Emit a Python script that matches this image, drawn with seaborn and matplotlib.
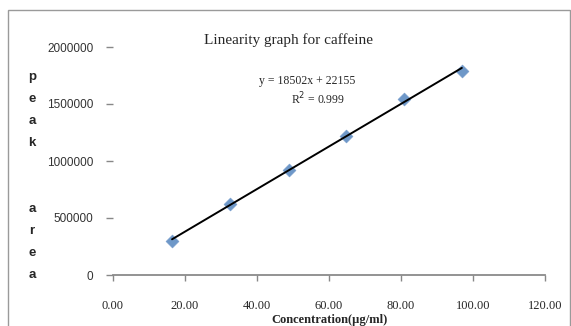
import numpy as np
import matplotlib
matplotlib.use("Agg")
import matplotlib.pyplot as plt
import seaborn as sns
from matplotlib.patches import Rectangle

# data
concentration = [16.4, 32.5, 48.8, 64.8, 80.8, 96.9]
peak_area = [298000, 623000, 921000, 1219000, 1544000, 1790000]
x_ticks = [0, 20, 40, 60, 80, 100, 120]
y_ticks = [0, 500000, 1000000, 1500000, 2000000]

sns.set_style("white")
plt.rcParams['font.family'] = ['Liberation Serif', 'DejaVu Sans']

fig = plt.figure(figsize=(5.71, 3.26), dpi=100)
ax = fig.add_axes([113 / 571, 1 - 275 / 326, 432 / 571, 228 / 326])

sns.regplot(x=concentration, y=peak_area, ax=ax, ci=None, truncate=True,
            marker='D',
            scatter_kws={'s': 42, 'color': '#4a7ebb', 'edgecolors': '#6f97c9',
                         'linewidths': 0.6, 'zorder': 2},
            line_kws={'color': 'black', 'lw': 1.4, 'zorder': 3})

ax.set_xlim(0, 120)
ax.set_ylim(0, 2000000)
ax.set_xticks(x_ticks)
ax.set_xticklabels([f'{v:.2f}' for v in x_ticks], fontsize=9)
ax.set_yticks(y_ticks)
ax.set_yticklabels([str(v) for v in y_ticks], fontsize=8.5,
                   family='Liberation Sans', color='#333333')
ax.tick_params(axis='x', direction='out', length=4, width=1, color='#888888',
               pad=14, bottom=True)
ax.tick_params(axis='y', direction='out', length=5, width=1, color='#888888',
               pad=9, left=True)
for s in ['left', 'right', 'top']:
    ax.spines[s].set_visible(False)
ax.spines['bottom'].set_color('#8a8a8a')
ax.spines['bottom'].set_linewidth(1.3)
ax.set_xlabel('')
ax.set_ylabel('')

# titles and annotations
fig.text(289 / 571, 1 - 40 / 326, 'Linearity graph for caffeine', ha='center',
         va='center', fontsize=11)
fig.text(307 / 571, 1 - 81 / 326, 'y = 18502x + 22155', ha='center',
         va='center', fontsize=8.5)
fig.text(318 / 571, 1 - 99 / 326, 'R$^2$ = 0.999', ha='center',
         va='center', fontsize=8.5)
fig.text(330 / 571, 1 - 320 / 326, 'Concentration(µg/ml)', ha='center',
         va='center', fontsize=9, fontweight='bold')

# vertical stacked y label
letters = ['p', 'e', 'a', 'k', '', '', 'a', 'r', 'e', 'a']
for i, ch in enumerate(letters):
    fig.text(32 / 571, 1 - (77 + 22 * i) / 326, ch, ha='center', va='center',
             fontsize=9.5, fontweight='bold', family='Liberation Sans')

# outer chart border
fig.patches.append(Rectangle((8 / 571, -0.1), 562 / 571, 1 - 10 / 326 + 0.1,
                             transform=fig.transFigure, fill=False,
                             edgecolor='#9a9a9a', lw=1))

fig.savefig('out.png', dpi=100)
